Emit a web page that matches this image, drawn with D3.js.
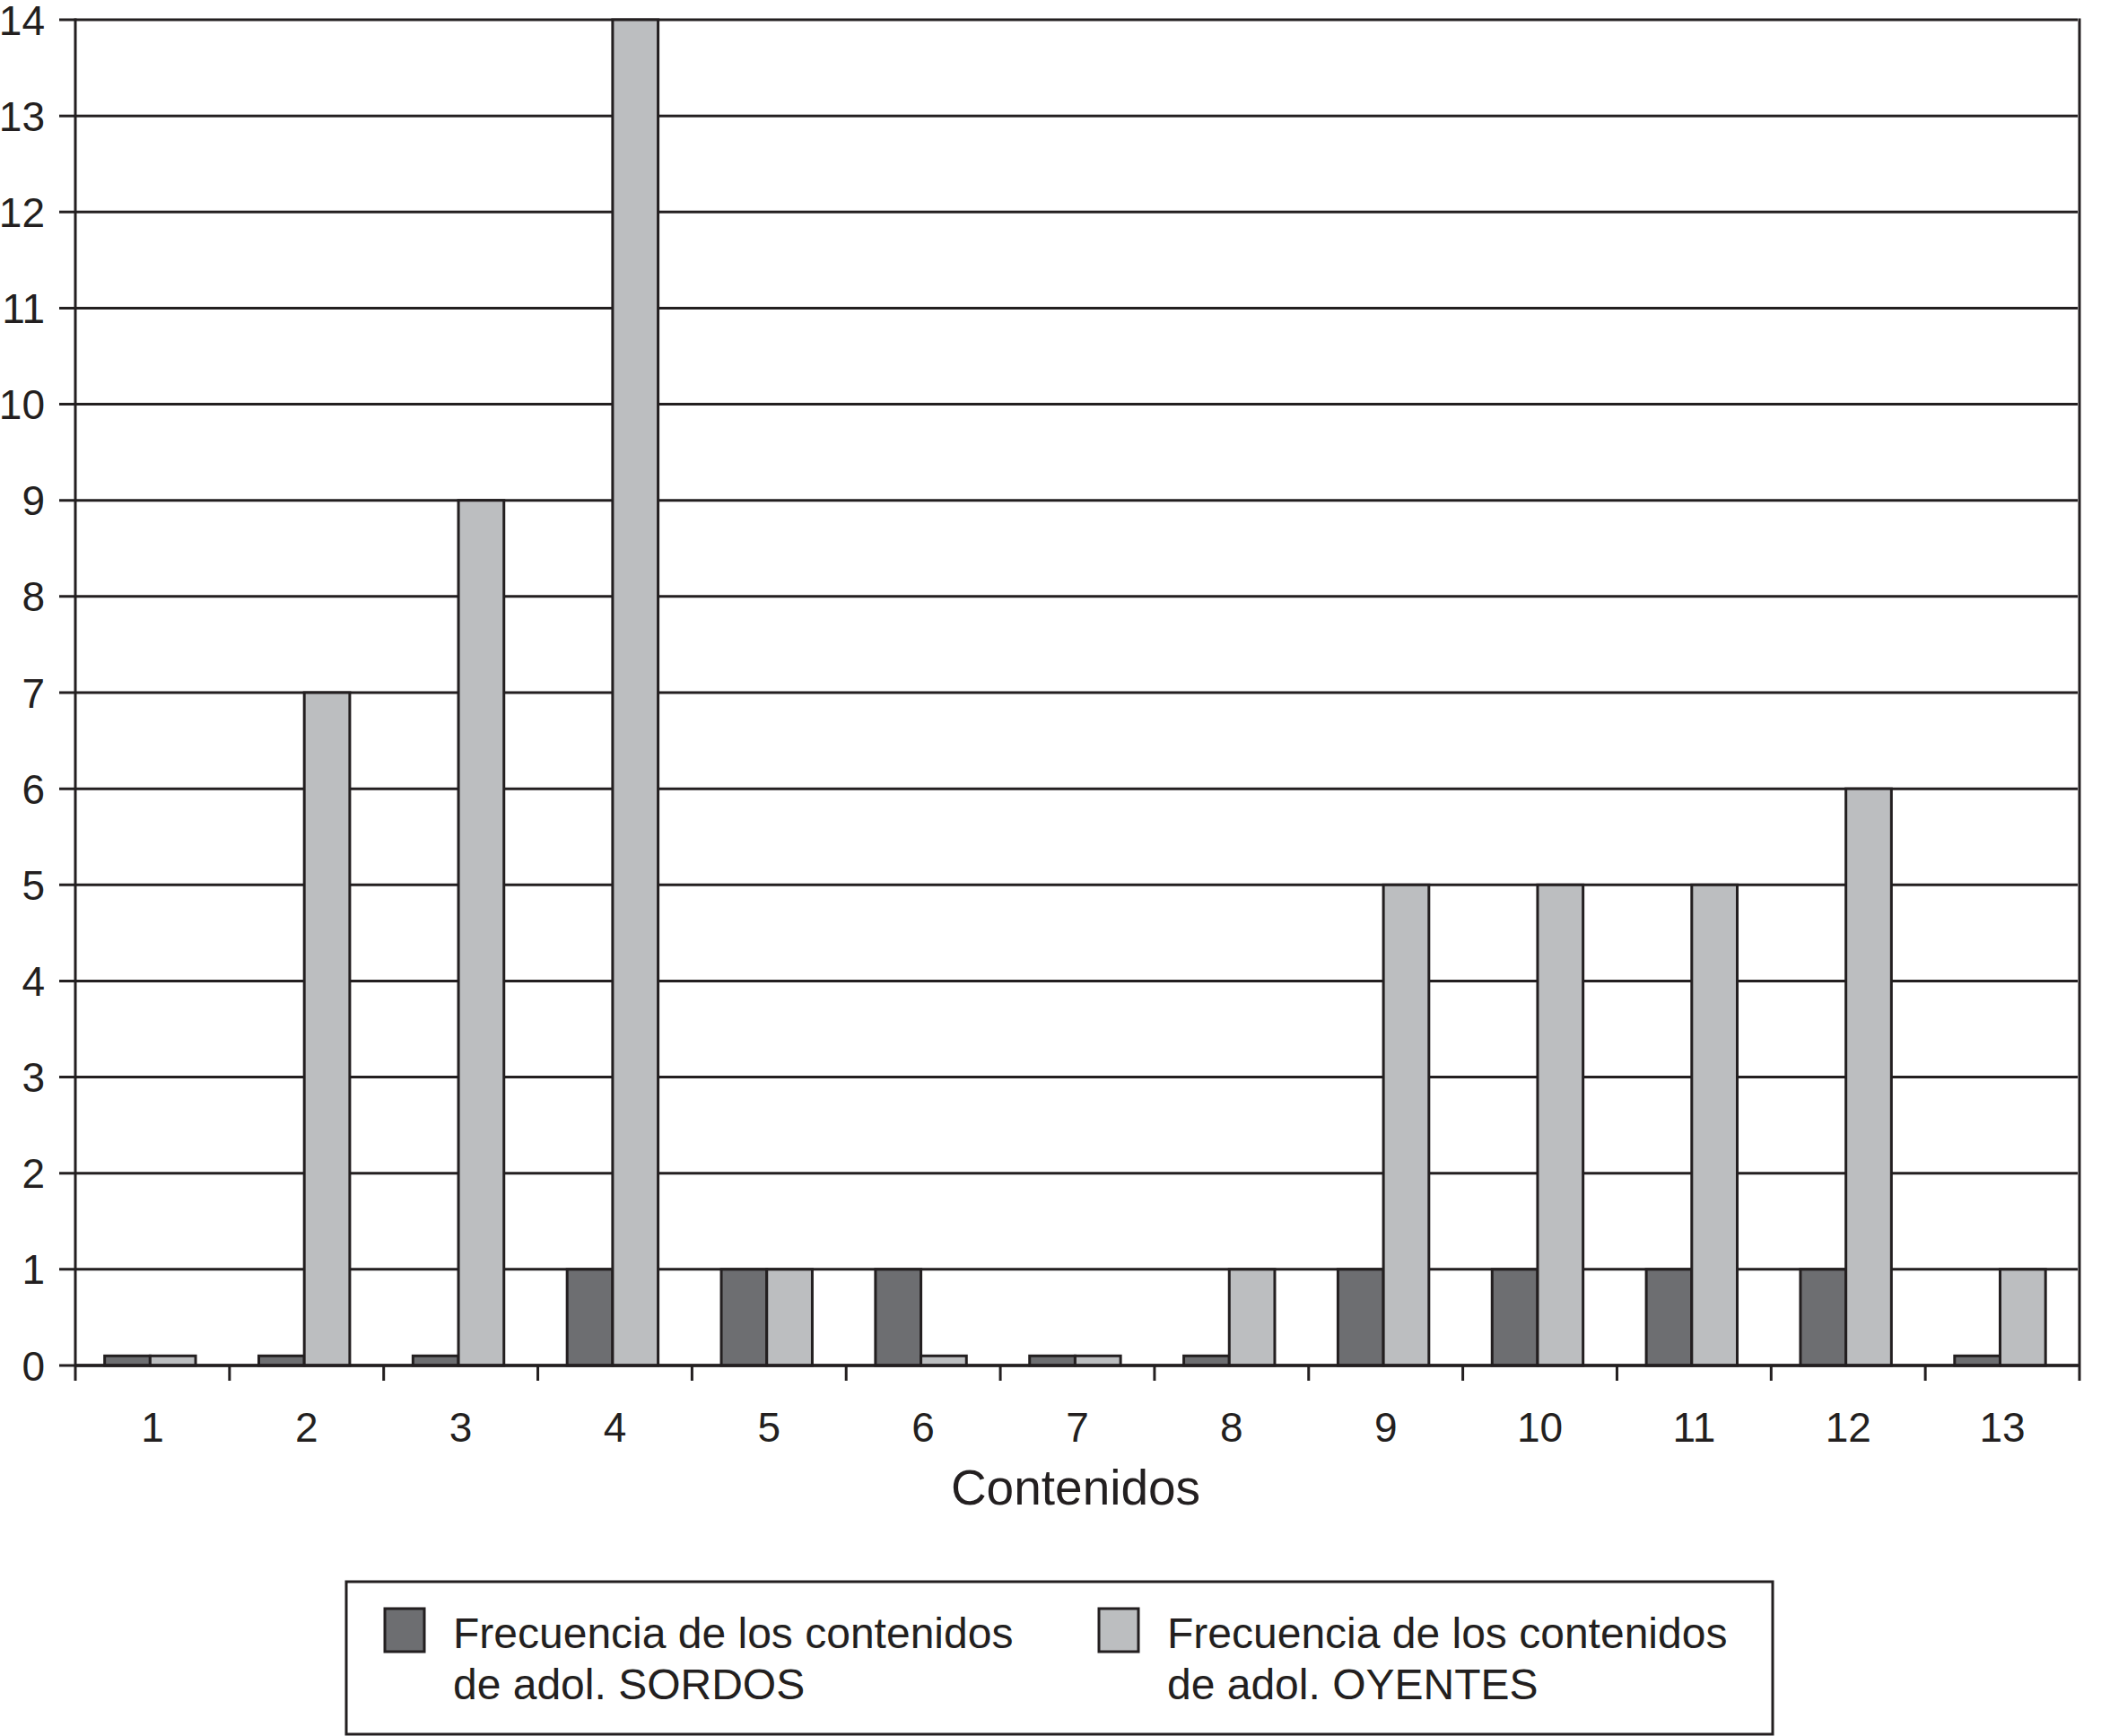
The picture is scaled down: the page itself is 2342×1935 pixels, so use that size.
<!DOCTYPE html>
<html>
<head>
<meta charset="utf-8">
<script src="https://cdn.jsdelivr.net/npm/d3@7"></script>
<style>
  html, body { margin: 0; padding: 0; background: #fff; }
  text { font-family: "Liberation Sans", Arial, Helvetica, sans-serif; fill: #231f20; }
</style>
</head>
<body>
<svg id="chart" width="2342" height="1935"></svg>
<script>
const categories = ["1","2","3","4","5","6","7","8","9","10","11","12","13"];
const seriesNames = ["sordos", "oyentes"];
const sordos  = [0.1, 0.1, 0.1, 1, 1, 1, 0.1, 0.1, 1, 1, 1, 1, 0.1];
const oyentes = [0.1, 7, 9, 14, 1, 0.1, 0.1, 1, 5, 5, 5, 6, 1];
const yTicks = [0,1,2,3,4,5,6,7,8,9,10,11,12,13,14];
const legendLines = [
  ["Frecuencia de los contenidos", "de adol. SORDOS"],
  ["Frecuencia de los contenidos", "de adol. OYENTES"]
];
const xTitle = "Contenidos";
const colors = {sordos: "#6d6e71", oyentes: "#bcbec0"};
const ink = "#231f20";

(function () {
const svg = d3.select("#chart");
const pLeft = 84, pRight = 2318, pTop = 22, pBottom = 1522;

const x0 = d3.scaleBand().domain(categories).range([pLeft, pRight]).padding(0);
const bw = x0.bandwidth();
const x1 = d3.scaleBand().domain(seriesNames).range([bw * 0.19, bw * 0.78]).padding(0);
const y = d3.scaleLinear().domain([0, 14]).range([pBottom, pTop]);

// gridlines + y ticks
const g = svg.append("g");
g.selectAll("line.grid").data(yTicks).join("line")
  .attr("x1", pLeft - 18).attr("x2", pRight - 2)
  .attr("y1", d => y(d)).attr("y2", d => y(d))
  .attr("stroke", ink).attr("stroke-width", 3);
g.selectAll("text.ylab").data(yTicks).join("text")
  .attr("x", 50).attr("y", d => y(d)).attr("dy", "0.36em")
  .attr("text-anchor", "end").attr("font-size", 46)
  .text(d => d);

// bars
const data = categories.map((c, i) => ({cat: c, vals: [
  {key: "sordos", v: sordos[i]}, {key: "oyentes", v: oyentes[i]}]}));
const groups = svg.append("g").selectAll("g").data(data).join("g")
  .attr("transform", d => `translate(${x0(d.cat)},0)`);
groups.selectAll("rect").data(d => d.vals).join("rect")
  .attr("x", d => x1(d.key)).attr("width", x1.bandwidth())
  .attr("y", d => y(d.v)).attr("height", d => y(0) - y(d.v))
  .attr("fill", d => colors[d.key]).attr("stroke", ink).attr("stroke-width", 3);

// axes lines
svg.append("line").attr("x1", pLeft).attr("x2", pLeft).attr("y1", pTop - 1.5).attr("y2", pBottom + 17)
  .attr("stroke", ink).attr("stroke-width", 3);
svg.append("line").attr("x1", pRight).attr("x2", pRight).attr("y1", pTop - 1.5).attr("y2", pBottom + 17)
  .attr("stroke", ink).attr("stroke-width", 3);
svg.append("line").attr("x1", pLeft).attr("x2", pRight).attr("y1", pBottom).attr("y2", pBottom)
  .attr("stroke", ink).attr("stroke-width", 3.5);
// x ticks (category boundaries)
svg.append("g").selectAll("line").data(categories.slice(1)).join("line")
  .attr("x1", d => x0(d)).attr("x2", d => x0(d))
  .attr("y1", pBottom).attr("y2", pBottom + 17)
  .attr("stroke", ink).attr("stroke-width", 3);
svg.append("g").selectAll("text").data(categories).join("text")
  .attr("x", d => x0(d) + bw / 2).attr("y", 1607)
  .attr("text-anchor", "middle").attr("font-size", 46)
  .text(d => d);

svg.append("text").attr("x", (pLeft + pRight) / 2 - 2).attr("y", 1677)
  .attr("text-anchor", "middle").attr("font-size", 55).text(xTitle);

// legend
svg.append("rect").attr("x", 386).attr("y", 1763).attr("width", 1590).attr("height", 170)
  .attr("fill", "#fff").attr("stroke", ink).attr("stroke-width", 3);
const legX = [429, 1225];
seriesNames.forEach((s, i) => {
  svg.append("rect").attr("x", legX[i]).attr("y", 1793).attr("width", 44).attr("height", 48)
    .attr("fill", colors[s]).attr("stroke", ink).attr("stroke-width", 3);
  legendLines[i].forEach((t, j) => {
    svg.append("text").attr("x", legX[i] + 76).attr("y", 1837 + j * 57)
      .attr("font-size", 48).text(t);
  });
});
})();
</script>
</body>
</html>
